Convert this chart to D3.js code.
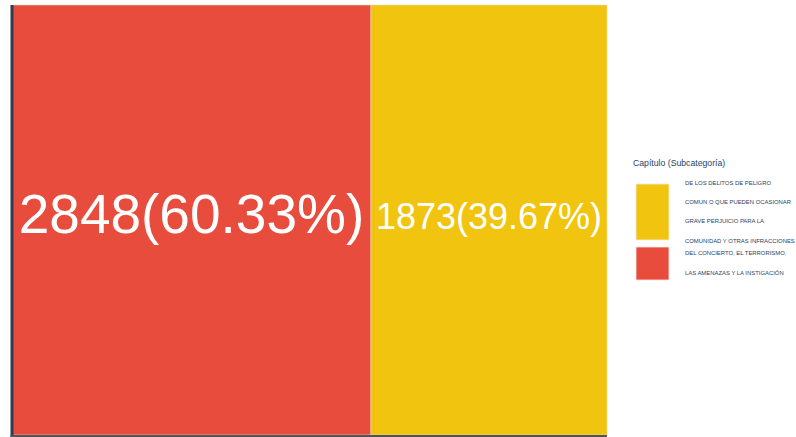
<!DOCTYPE html>
<html>
<head>
<meta charset="utf-8">
<script src="https://cdn.jsdelivr.net/npm/d3@7"></script>
<style>
  body { margin: 0; background: #fff; overflow: hidden; }
  svg text { font-family: "Liberation Sans", Arial, sans-serif; }
</style>
</head>
<body>
<div class="stage"></div>
<script>
var categories = ["Cap. A", "Cap. B"];
var values = [2848, 1873];
var colors = ["#e74c3c", "#f1c40f"];
var labelSizes = [55, 36];

var legendTitle = "Capítulo (Subcategoría)";
var legendLines = [
  "DE LOS DELITOS DE PELIGRO",
  "COMUN O QUE PUEDEN OCASIONAR",
  "GRAVE PERJUICIO PARA LA",
  "COMUNIDAD Y OTRAS INFRACCIONES",
  "DEL CONCIERTO, EL TERRORISMO,",
  "LAS AMENAZAS Y LA INSTIGACIÓN"
];
var legendLineY = [185, 204, 223, 243, 255, 275];

var width = 796, height = 437;
var svg = d3.select(".stage").append("svg").attr("width", width).attr("height", height)
  .style("display", "block");

var total = d3.sum(values);
var root = d3.hierarchy({children: categories.map(function(c, i){
  return {name: c, value: values[i], color: colors[i], size: labelSizes[i]};
})}).sum(function(d){ return d.value || 0; });

var x0 = 12, x1 = 607, y0 = 5, y1 = 435;
d3.treemap().tile(d3.treemapDice).size([x1 - x0, y1 - y0]).padding(0)(root);

var g = svg.append("g").attr("transform", "translate(" + x0 + "," + y0 + ")");

var cell = g.selectAll("g.cell").data(root.leaves()).enter()
  .append("g").attr("class", "cell");

cell.append("rect")
  .attr("x", function(d){ return d.x0; })
  .attr("y", function(d){ return d.y0; })
  .attr("width", function(d){ return d.x1 - d.x0; })
  .attr("height", function(d){ return d.y1 - d.y0; })
  .attr("fill", function(d){ return d.data.color; })
  .attr("stroke", "#f4d9b0")
  .attr("stroke-width", 0.6);

cell.append("text")
  .attr("x", function(d){ return (d.x0 + d.x1) / 2; })
  .attr("y", function(d){ return (d.y0 + d.y1) / 2; })
  .attr("dy", "0.24em")
  .attr("text-anchor", "middle")
  .attr("fill", "#fff")
  .attr("font-size", function(d){ return d.data.size; })
  .text(function(d){ return d.data.value + "(" + (d.data.value / total * 100).toFixed(2) + "%)"; });

// axis lines
svg.append("line").attr("x1", 12).attr("x2", 12).attr("y1", y0).attr("y2", 437)
  .attr("stroke", "#2c3e50").attr("stroke-width", 3);
svg.append("line").attr("x1", 10.5).attr("x2", x1).attr("y1", 436).attr("y2", 436)
  .attr("stroke", "#4a5560").attr("stroke-width", 2);

// legend
var legend = svg.append("g");
legend.append("text").attr("x", 633).attr("y", 166)
  .attr("font-size", 8.7).attr("fill", "#2a3f5f").text(legendTitle);

var swatches = [
  {color: colors[1], y: 184, h: 56},
  {color: colors[0], y: 247, h: 33}
];
legend.selectAll("rect.sw").data(swatches).enter().append("rect")
  .attr("class", "sw")
  .attr("x", 636).attr("width", 33)
  .attr("y", function(d){ return d.y; })
  .attr("height", function(d){ return d.h; })
  .attr("fill", function(d){ return d.color; })
  .attr("stroke", "#fbe9e0").attr("stroke-width", 0.8);

legend.selectAll("text.item").data(legendLines).enter().append("text")
  .attr("class", "item")
  .attr("x", 685)
  .attr("y", function(d, i){ return legendLineY[i]; })
  .attr("font-size", 5.9)
  .attr("fill", "#2a3f5f")
  .text(function(d){ return d; });
</script>
</body>
</html>
